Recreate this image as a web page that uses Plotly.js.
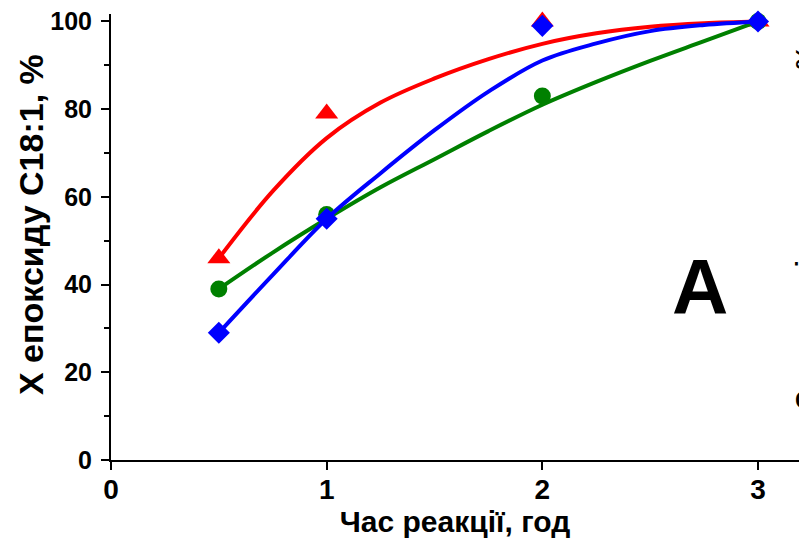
<!DOCTYPE html>
<html>
<head>
<meta charset="utf-8">
<script src="https://cdn.plot.ly/plotly-3.0.1.min.js"></script>
<style>html,body{margin:0;padding:0;background:#fff;}#chart{width:799px;height:546px;}</style>
</head>
<body>
<div id="chart"></div>
<script>
// measured points
var timeH = [0.5, 1, 2, 3];
var redPts = [46, 79, 100, 100];
var greenPts = [39, 56, 83, 100];
var bluePts = [29, 55, 99, 100];

// fitted curves
var curveX = [0.5, 0.75, 1, 1.25, 1.5, 1.75, 2, 2.25, 2.5, 2.75, 3];
var redCurve = [46, 61.3, 73.4, 81.5, 87, 91.4, 94.9, 97.3, 98.8, 99.6, 100];
var greenCurve = [39, 47.3, 55, 62.2, 68.6, 75, 81, 86.2, 91, 95.5, 100];
var blueCurve = [29, 42.2, 55, 65.4, 75.2, 84, 91.1, 95, 97.8, 99.2, 100];

var xTitle = 'Час реакції, год';
var yTitle = 'Х епоксиду С18:1, %';
var panelLabel = 'A';
var sideTitle = 'Селективність епоксиду, %';

var RED = '#ff0000', GREEN = '#008000', BLUE = '#0000ff';

function curve(y, c) {
  return {x: curveX, y: y, mode: 'lines', line: {color: c, width: 4, shape: 'spline', smoothing: 1}, hoverinfo: 'skip', showlegend: false, cliponaxis: false};
}
function pts(y, c, sym, sz) {
  return {x: timeH, y: y, mode: 'markers', marker: {color: c, symbol: sym, size: sz, line: {width: 0}}, showlegend: false, cliponaxis: false};
}

var data = [
  curve(redCurve, RED), pts(redPts, RED, 'triangle-up', 20),
  curve(greenCurve, GREEN), pts(greenPts, GREEN, 'circle', 17),
  curve(blueCurve, BLUE), pts(bluePts, BLUE, 'diamond', 17)
];

var SANS = 'Liberation Sans, Arial, sans-serif';
var NARROW = 'Liberation Sans Narrow, Arial Narrow, Liberation Sans, sans-serif';
function f(size, fam) { return {family: fam || SANS, size: size, weight: 700, color: '#000'}; }

var layout = {
  width: 799, height: 546,
  margin: {l: 111, r: 0, t: 14, b: 86, pad: 0},
  paper_bgcolor: '#fff', plot_bgcolor: '#fff',
  showlegend: false,
  xaxis: {
    range: [0, 3.19], showgrid: false, zeroline: false,
    showline: true, linecolor: '#000', linewidth: 2,
    ticks: 'outside', ticklen: 8, tickwidth: 2, tickcolor: '#000',
    tickvals: [0, 1, 2, 3], ticktext: ['0', '1', '2', '3'],
    tickfont: f(28, NARROW),
    ticklabelstandoff: -5,
    title: {text: xTitle, font: f(30, NARROW), standoff: 3}
  },
  yaxis: {
    range: [0, 101.7], showgrid: false, zeroline: false,
    showline: true, linecolor: '#000', linewidth: 2,
    ticks: 'outside', ticklen: 8, tickwidth: 2, tickcolor: '#000',
    tickvals: [0, 20, 40, 60, 80, 100],
    tickfont: f(25),
    ticklabelstandoff: 4,
    minor: {tickvals: [10, 30, 50, 70, 90], ticks: 'outside', ticklen: 5, tickwidth: 2, tickcolor: '#000'}
  },
  annotations: [
    {text: yTitle, xref: 'paper', yref: 'paper', x: (31 - 111) / 688, y: (460 - 225) / 446, xanchor: 'center', yanchor: 'middle', textangle: -90, showarrow: false, font: f(34)},
    {text: panelLabel, xref: 'x', yref: 'y', x: 2.73, y: 39.5, showarrow: false, font: f(78)},
    {text: sideTitle, xref: 'paper', yref: 'paper', x: (789 - 111) / 688, y: (460 - 228) / 446, xanchor: 'left', yanchor: 'middle', textangle: -90, showarrow: false, font: f(27)}
  ]
};

Plotly.newPlot('chart', data, layout, {displayModeBar: false, staticPlot: true});
</script>
</body>
</html>
